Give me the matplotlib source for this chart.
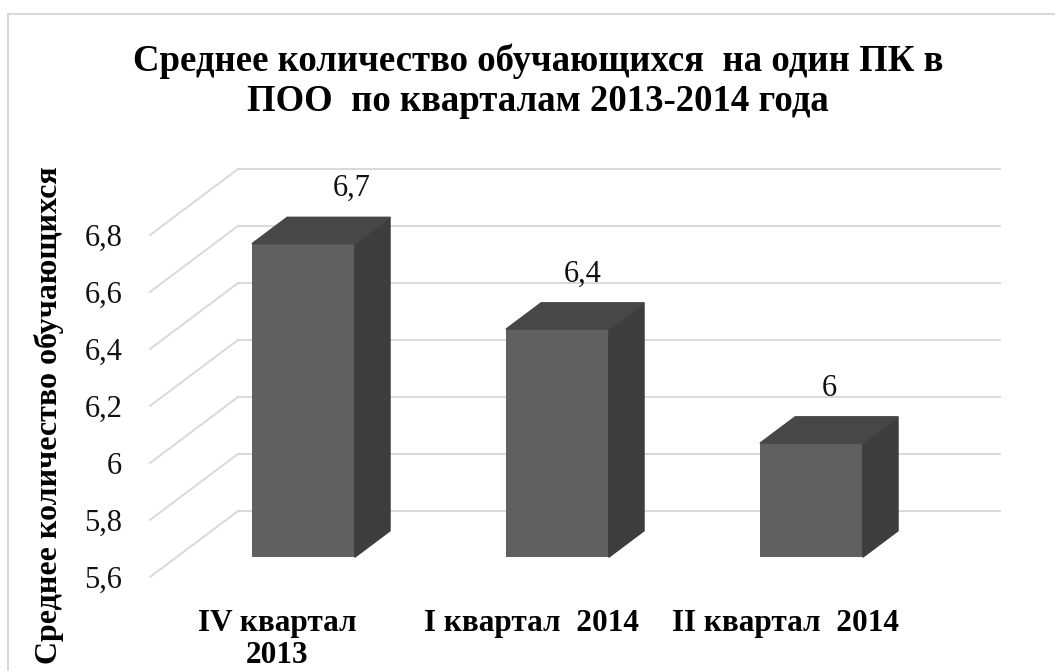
import matplotlib
matplotlib.use("Agg")
import matplotlib.pyplot as plt
from matplotlib.patches import Polygon, Rectangle

# --- data ---
categories = ["IV квартал\n2013", "I квартал  2014", "II квартал  2014"]
values = [6.7, 6.4, 6.0]
value_labels = ["6,7", "6,4", "6"]
y_ticks = [5.6, 5.8, 6.0, 6.2, 6.4, 6.6, 6.8]
y_tick_labels = ["5,6", "5,8", "6", "6,2", "6,4", "6,6", "6,8"]

title = "Среднее количество обучающихся  на один ПК в\nПОО  по кварталам 2013-2014 года"
y_title = "Среднее количество обучающихся"

plt.rcParams["font.family"] = ["Liberation Serif", "DejaVu Serif"]

# fake 3d view (excel style): depth of the floor in data units
depth_x = 88 / 254
depth_y = 66 / 285
bar_w = 0.405
bar_d0, bar_d1 = 0.3, 0.7
base = y_ticks[0]
label_nudge = [0.12, 0.03, 0.0]

grid_c = "#d9d9d9"
front_c = "#606060"
side_c = "#3d3d3d"
top_c = "#474747"

fig = plt.figure(figsize=(10.55, 6.71), dpi=100)
ax = fig.add_axes([150 / 1055, 94 / 671, 762 / 1055, 342 / 671])
ax.set_xlim(-0.5, 2.5)
ax.set_ylim(y_ticks[0], y_ticks[-1])
for s in ax.spines.values():
    s.set_visible(False)

# back wall grid + diagonals on the left wall
for v in y_ticks:
    ax.plot([-0.5 + depth_x, 2.5 + depth_x], [v + depth_y, v + depth_y],
            color=grid_c, lw=1.4, clip_on=False, zorder=1)
    ax.plot([-0.5, -0.5 + depth_x], [v, v + depth_y],
            color=grid_c, lw=1.4, clip_on=False, zorder=1)

ox0, oy0 = bar_d0 * depth_x, bar_d0 * depth_y
ddx, ddy = (bar_d1 - bar_d0) * depth_x, (bar_d1 - bar_d0) * depth_y

for i, v in enumerate(values):
    ax.bar(i + ox0, v - base, bottom=base + oy0, width=bar_w,
           color=front_c, clip_on=False, zorder=3)
    left = i + ox0 - bar_w / 2
    right = i + ox0 + bar_w / 2
    top = v + oy0
    ax.add_patch(Polygon([(right, base + oy0), (right, top), (right + ddx, top + ddy),
                          (right + ddx, base + oy0 + ddy)],
                         closed=True, color=side_c, clip_on=False, zorder=3))
    ax.add_patch(Polygon([(left, top), (right, top), (right + ddx, top + ddy),
                          (left + ddx, top + ddy)],
                         closed=True, color=top_c, clip_on=False, zorder=3))
    ax.text(i + ox0 + ddx / 2 + label_nudge[i], top + ddy + 0.10, value_labels[i],
            ha="center", va="center", fontsize=22, color="#111111")

ax.set_yticks(y_ticks)
ax.set_yticklabels(y_tick_labels, fontsize=22, color="#111111")
ax.set_xticks(range(len(categories)))
ax.set_xticklabels(categories, fontsize=22.5, fontweight="bold", linespacing=1.12)
ax.tick_params(axis="y", length=0, pad=20)
ax.tick_params(axis="x", length=0, pad=23)

fig.text(49 / 1055, 1 - 415 / 671, y_title, rotation=90, ha="center", va="center",
         fontsize=23, fontweight="bold")
fig.text(538 / 1055, 1 - 81 / 671, title, ha="center", va="center",
         fontsize=26.5, fontweight="bold", linespacing=1.2)

# chart area frame
fig.patches.append(Rectangle((8 / 1055, -0.05), 1.2, 1.05 - 14 / 671, transform=fig.transFigure,
                             fill=False, edgecolor=grid_c, lw=1.5))

fig.savefig("out.png", dpi=100)
